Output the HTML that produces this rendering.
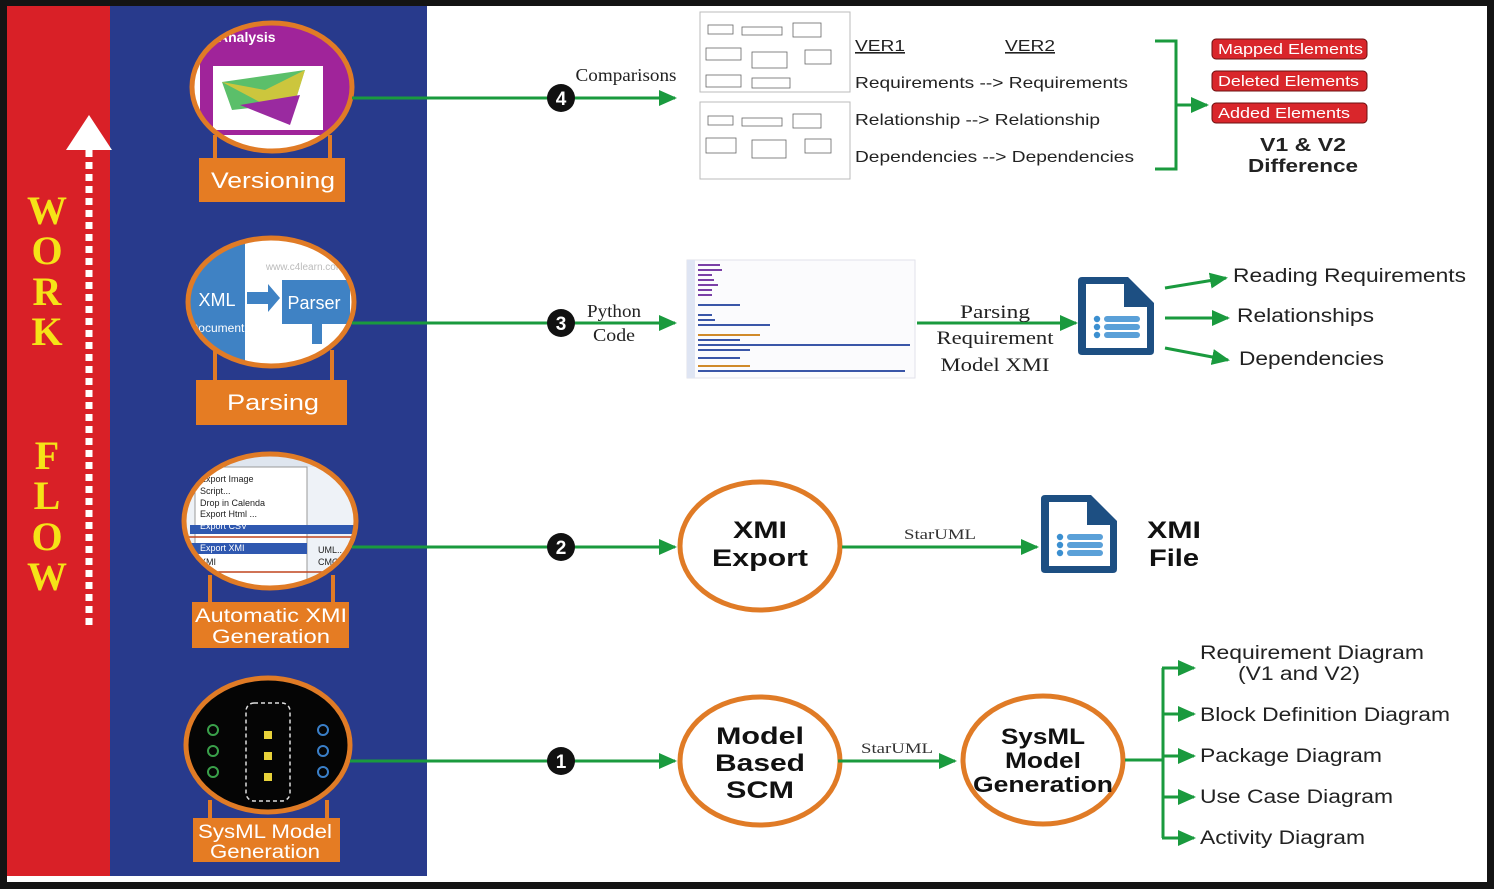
<!DOCTYPE html>
<html><head><meta charset="utf-8">
<style>
html,body{margin:0;padding:0;background:#111;}
svg{display:block;}
.s{font-family:"Liberation Sans",sans-serif;}
.r{font-family:"Liberation Serif",serif;}
</style></head>
<body>
<svg width="1494" height="889" viewBox="0 0 1494 889" xmlns="http://www.w3.org/2000/svg">
<defs>
<marker id="ah2" markerWidth="18" markerHeight="16" refX="16" refY="8" orient="auto" markerUnits="userSpaceOnUse">
<path d="M0,0 L18,8 L0,16 z" fill="#1a9a3e"/></marker>
<g id="doc">
<path d="M4,0 H50 L76,26 V74 Q76,78 72,78 H4 Q0,78 0,74 V4 Q0,0 4,0 z" fill="#1d4f82"/>
<path d="M8,7 H46 V30 H69 V71 H8 z" fill="#fff"/>
<circle cx="19" cy="42" r="3.2" fill="#3b8fd0"/><circle cx="19" cy="50" r="3.2" fill="#3b8fd0"/><circle cx="19" cy="58" r="3.2" fill="#3b8fd0"/>
<rect x="26" y="39" width="36" height="6" rx="3" fill="#5aa0d8"/><rect x="26" y="47" width="36" height="6" rx="3" fill="#5aa0d8"/><rect x="26" y="55" width="36" height="6" rx="3" fill="#5aa0d8"/>
</g>
</defs>
<rect x="0" y="0" width="1494" height="889" fill="#141414"/>
<rect x="7" y="6" width="1480" height="876" fill="#fff"/>
<rect x="7" y="6" width="103" height="870" fill="#d92027"/>
<rect x="110" y="6" width="317" height="870" fill="#283a8c"/>

<line x1="89" y1="150" x2="89" y2="628" stroke="#fff" stroke-width="7" stroke-dasharray="7,5"/>
<path d="M66,150 L89,115 L112,150 z" fill="#fff"/>
<g font-family="Liberation Serif,serif" font-weight="bold" font-size="40" fill="#f5e317" text-anchor="middle">
<text x="47" y="224">W</text><text x="47" y="264">O</text><text x="47" y="305">R</text><text x="47" y="345">K</text>
<text x="47" y="469">F</text><text x="47" y="509">L</text><text x="47" y="550">O</text><text x="47" y="590">W</text>
</g>

<!-- Versioning -->
<line x1="215" y1="135" x2="215" y2="160" stroke="#e07b26" stroke-width="4"/>
<line x1="330" y1="135" x2="330" y2="160" stroke="#e07b26" stroke-width="4"/>
<ellipse cx="272" cy="87" rx="80" ry="64" fill="#fff"/>
<clipPath id="c1"><ellipse cx="272" cy="87" rx="80" ry="64"/></clipPath>
<g clip-path="url(#c1)">
<rect x="200" y="25" width="150" height="110" fill="#a0249a"/>
<rect x="213" y="66" width="110" height="64" fill="#fff"/>
<path d="M222,82 L305,70 L290,118 L250,108 L232,110 z" fill="#5bbf6a"/>
<path d="M222,82 L265,90 L305,70 L290,118 z" fill="#e8c832" opacity="0.8"/>
<path d="M240,105 L300,95 L290,125 z" fill="#9a2aa0"/>
<text x="218" y="42" class="s" font-weight="bold" font-size="14" fill="#fff">Analysis</text>
</g>
<ellipse cx="272" cy="87" rx="80" ry="64" fill="none" stroke="#e07b26" stroke-width="5"/>
<rect x="199" y="158" width="146" height="44" fill="#e57c23"/>
<text x="273" y="188" class="s" font-size="22" fill="#fff" text-anchor="middle" textLength="124" lengthAdjust="spacingAndGlyphs">Versioning</text>

<!-- Parsing -->
<line x1="215" y1="350" x2="215" y2="382" stroke="#e07b26" stroke-width="4"/>
<line x1="332" y1="350" x2="332" y2="382" stroke="#e07b26" stroke-width="4"/>
<ellipse cx="271" cy="302" rx="83" ry="64" fill="#fff"/>
<clipPath id="c2"><ellipse cx="271" cy="302" rx="83" ry="64"/></clipPath>
<g clip-path="url(#c2)">
<rect x="185" y="240" width="60" height="130" fill="#3f82c4"/>
<rect x="282" y="280" width="68" height="44" fill="#3f82c4"/>
<path d="M247,292 H268 V284 L280,298 L268,312 V304 H247 z" fill="#3f82c4"/>
<rect x="312" y="324" width="10" height="20" fill="#3f82c4"/>
<text x="217" y="306" class="s" font-size="18" fill="#fff" text-anchor="middle">XML</text>
<text x="217" y="332" class="s" font-size="12" fill="#fff" text-anchor="middle">Document</text>
<text x="314" y="309" class="s" font-size="18" fill="#fff" text-anchor="middle">Parser</text>
<text x="305" y="270" class="s" font-size="10" fill="#bbb" text-anchor="middle">www.c4learn.com</text>
</g>
<ellipse cx="271" cy="302" rx="83" ry="64" fill="none" stroke="#e07b26" stroke-width="5"/>
<rect x="196" y="380" width="151" height="45" fill="#e57c23"/>
<text x="273" y="410" class="s" font-size="22" fill="#fff" text-anchor="middle" textLength="92" lengthAdjust="spacingAndGlyphs">Parsing</text>

<!-- Auto XMI -->
<line x1="210" y1="575" x2="210" y2="604" stroke="#e07b26" stroke-width="4"/>
<line x1="333" y1="575" x2="333" y2="604" stroke="#e07b26" stroke-width="4"/>
<ellipse cx="270" cy="521" rx="86" ry="67" fill="#eef2f7"/>
<clipPath id="c3"><ellipse cx="270" cy="521" rx="86" ry="67"/></clipPath>
<g clip-path="url(#c3)" class="s" font-size="9" fill="#222">
<rect x="180" y="455" width="180" height="12" fill="#dfe6ef"/>
<rect x="195" y="467" width="112" height="120" fill="#fff" stroke="#999"/>
<rect x="190" y="525" width="170" height="9" fill="#2f58b0"/>
<rect x="190" y="543" width="117" height="11" fill="#2f58b0"/>
<line x1="180" y1="537" x2="360" y2="537" stroke="#c0451f" stroke-width="1.5"/>
<line x1="180" y1="572" x2="360" y2="572" stroke="#c0451f" stroke-width="1.5"/>
<text x="200" y="482">Export Image</text><text x="200" y="494">Script...</text><text x="200" y="506">Drop in Calenda</text>
<text x="200" y="517">Export Html ...</text><text x="200" y="529" fill="#fff">Export CSV</text>
<text x="200" y="551" fill="#fff">Export XMI</text><text x="200" y="565">XMI</text>
<text x="318" y="553">UML..</text><text x="318" y="565">CMOF</text>
</g>
<ellipse cx="270" cy="521" rx="86" ry="67" fill="none" stroke="#e07b26" stroke-width="5"/>
<rect x="192" y="602" width="157" height="46" fill="#e57c23"/>
<text x="271" y="622" class="s" font-size="19" fill="#fff" text-anchor="middle" textLength="152" lengthAdjust="spacingAndGlyphs">Automatic XMI</text>
<text x="271" y="643" class="s" font-size="19" fill="#fff" text-anchor="middle" textLength="118" lengthAdjust="spacingAndGlyphs">Generation</text>

<!-- SysML -->
<line x1="210" y1="800" x2="210" y2="820" stroke="#e07b26" stroke-width="4"/>
<line x1="327" y1="800" x2="327" y2="820" stroke="#e07b26" stroke-width="4"/>
<ellipse cx="268" cy="745" rx="82" ry="67" fill="#050505" stroke="#e07b26" stroke-width="5"/>
<rect x="246" y="703" width="44" height="98" rx="8" fill="none" stroke="#ddd" stroke-width="1.5" stroke-dasharray="4,3"/>
<rect x="264" y="731" width="8" height="8" fill="#e8d23a"/><rect x="264" y="752" width="8" height="8" fill="#e8d23a"/><rect x="264" y="773" width="8" height="8" fill="#e8d23a"/>
<g fill="none" stroke="#3aa04a" stroke-width="2"><circle cx="213" cy="730" r="5"/><circle cx="213" cy="751" r="5"/><circle cx="213" cy="772" r="5"/></g>
<g fill="none" stroke="#3a7fc8" stroke-width="2"><circle cx="323" cy="730" r="5"/><circle cx="323" cy="751" r="5"/><circle cx="323" cy="772" r="5"/></g>
<rect x="193" y="818" width="147" height="44" fill="#e57c23"/>
<text x="265" y="838" class="s" font-size="19" fill="#fff" text-anchor="middle" textLength="134" lengthAdjust="spacingAndGlyphs">SysML Model</text>
<text x="265" y="858" class="s" font-size="19" fill="#fff" text-anchor="middle" textLength="110" lengthAdjust="spacingAndGlyphs">Generation</text>

<g stroke="#1a9a3e" stroke-width="3" fill="none">
<line x1="352" y1="98" x2="675" y2="98" marker-end="url(#ah2)"/>
<line x1="352" y1="323" x2="675" y2="323" marker-end="url(#ah2)"/>
<line x1="352" y1="547" x2="675" y2="547" marker-end="url(#ah2)"/>
<line x1="350" y1="761" x2="675" y2="761" marker-end="url(#ah2)"/>
</g>
<g class="s" font-weight="bold" font-size="19" fill="#fff" text-anchor="middle">
<circle cx="561" cy="98" r="14" fill="#111"/><text x="561" y="105">4</text>
<circle cx="561" cy="323" r="14" fill="#111"/><text x="561" y="330">3</text>
<circle cx="561" cy="547" r="14" fill="#111"/><text x="561" y="554">2</text>
<circle cx="561" cy="761" r="14" fill="#111"/><text x="561" y="768">1</text>
</g>

<!-- Step 4 -->
<text x="626" y="81" class="r" font-size="18" fill="#222" text-anchor="middle" textLength="101" lengthAdjust="spacingAndGlyphs">Comparisons</text>
<g stroke="#bbb" fill="#fff" stroke-width="1">
<rect x="700" y="12" width="150" height="80"/><rect x="700" y="102" width="150" height="77"/>
</g>
<g stroke="#666" fill="none" stroke-width="0.8">
<rect x="708" y="25" width="25" height="9"/><rect x="742" y="27" width="40" height="8"/><rect x="793" y="23" width="28" height="14"/>
<rect x="706" y="48" width="35" height="12"/><rect x="752" y="52" width="35" height="16"/><rect x="805" y="50" width="26" height="14"/>
<rect x="706" y="75" width="35" height="12"/><rect x="752" y="78" width="38" height="10"/>
<rect x="708" y="116" width="25" height="9"/><rect x="742" y="118" width="40" height="8"/><rect x="793" y="114" width="28" height="14"/>
<rect x="706" y="138" width="30" height="15"/><rect x="752" y="140" width="34" height="18"/><rect x="805" y="139" width="26" height="14"/>
</g>
<g class="s" font-size="16" fill="#222" lengthAdjust="spacingAndGlyphs">
<text x="855" y="51" text-decoration="underline" textLength="50" lengthAdjust="spacingAndGlyphs">VER1</text>
<text x="1005" y="51" text-decoration="underline" textLength="50" lengthAdjust="spacingAndGlyphs">VER2</text>
<text x="855" y="88" textLength="273" lengthAdjust="spacingAndGlyphs">Requirements --&gt; Requirements</text>
<text x="855" y="125" textLength="245" lengthAdjust="spacingAndGlyphs">Relationship --&gt; Relationship</text>
<text x="855" y="162" textLength="279" lengthAdjust="spacingAndGlyphs">Dependencies --&gt; Dependencies</text>
</g>
<path d="M1155,41 H1176 V169 H1155" fill="none" stroke="#1a9a3e" stroke-width="3"/>
<line x1="1176" y1="105" x2="1207" y2="105" stroke="#1a9a3e" stroke-width="3" marker-end="url(#ah2)"/>
<g class="s" font-size="15" fill="#fff">
<rect x="1212" y="39" width="155" height="20" rx="4" fill="#d9262b" stroke="#6b1010"/><text x="1218" y="54" textLength="145" lengthAdjust="spacingAndGlyphs">Mapped Elements</text>
<rect x="1212" y="71" width="155" height="20" rx="4" fill="#d9262b" stroke="#6b1010"/><text x="1218" y="86" textLength="141" lengthAdjust="spacingAndGlyphs">Deleted Elements</text>
<rect x="1212" y="103" width="155" height="20" rx="4" fill="#d9262b" stroke="#6b1010"/><text x="1218" y="118" textLength="132" lengthAdjust="spacingAndGlyphs">Added Elements</text>
</g>
<text x="1303" y="151" class="s" font-weight="bold" font-size="18" fill="#222" text-anchor="middle" textLength="86" lengthAdjust="spacingAndGlyphs">V1 &amp; V2</text>
<text x="1303" y="172" class="s" font-weight="bold" font-size="18" fill="#222" text-anchor="middle" textLength="110" lengthAdjust="spacingAndGlyphs">Difference</text>

<!-- Step 3 -->
<text x="614" y="317" class="r" font-size="18" fill="#222" text-anchor="middle" textLength="54" lengthAdjust="spacingAndGlyphs">Python</text>
<text x="614" y="341" class="r" font-size="18" fill="#222" text-anchor="middle" textLength="42" lengthAdjust="spacingAndGlyphs">Code</text>
<rect x="687" y="260" width="228" height="118" fill="#fbfbfd" stroke="#e2e2ea"/>
<rect x="687" y="260" width="8" height="118" fill="#dfe5f3"/>
<g stroke-width="2">
<line x1="698" y1="265" x2="720" y2="265" stroke="#7a3fa6"/><line x1="698" y1="270" x2="722" y2="270" stroke="#7a3fa6"/>
<line x1="698" y1="275" x2="712" y2="275" stroke="#7a3fa6"/><line x1="698" y1="280" x2="714" y2="280" stroke="#7a3fa6"/>
<line x1="698" y1="285" x2="718" y2="285" stroke="#7a3fa6"/><line x1="698" y1="290" x2="712" y2="290" stroke="#7a3fa6"/>
<line x1="698" y1="295" x2="712" y2="295" stroke="#7a3fa6"/><line x1="698" y1="305" x2="740" y2="305" stroke="#3a56a8"/>
<line x1="698" y1="315" x2="712" y2="315" stroke="#3a56a8"/><line x1="698" y1="320" x2="715" y2="320" stroke="#3a56a8"/>
<line x1="698" y1="325" x2="770" y2="325" stroke="#3a56a8"/><line x1="698" y1="335" x2="760" y2="335" stroke="#d08a2a"/>
<line x1="698" y1="340" x2="740" y2="340" stroke="#3a56a8"/><line x1="698" y1="345" x2="910" y2="345" stroke="#3a56a8"/>
<line x1="698" y1="350" x2="750" y2="350" stroke="#3a56a8"/><line x1="698" y1="358" x2="740" y2="358" stroke="#3a56a8"/>
<line x1="698" y1="366" x2="750" y2="366" stroke="#d08a2a"/><line x1="698" y1="371" x2="905" y2="371" stroke="#3a56a8"/>
</g>
<line x1="917" y1="323" x2="1076" y2="323" stroke="#1a9a3e" stroke-width="3" marker-end="url(#ah2)"/>
<g class="r" font-size="19" fill="#222" text-anchor="middle">
<text x="995" y="318" textLength="70" lengthAdjust="spacingAndGlyphs">Parsing</text>
<text x="995" y="344" textLength="117" lengthAdjust="spacingAndGlyphs">Requirement</text>
<text x="995" y="371" textLength="109" lengthAdjust="spacingAndGlyphs">Model XMI</text>
</g>
<use href="#doc" x="1078" y="277"/>
<g stroke="#1a9a3e" stroke-width="3">
<line x1="1165" y1="288" x2="1226" y2="278" marker-end="url(#ah2)"/>
<line x1="1165" y1="318" x2="1228" y2="318" marker-end="url(#ah2)"/>
<line x1="1165" y1="348" x2="1228" y2="360" marker-end="url(#ah2)"/>
</g>
<g class="s" font-size="19" fill="#222">
<text x="1233" y="282" textLength="233" lengthAdjust="spacingAndGlyphs">Reading Requirements</text>
<text x="1237" y="322" textLength="137" lengthAdjust="spacingAndGlyphs">Relationships</text>
<text x="1239" y="365" textLength="145" lengthAdjust="spacingAndGlyphs">Dependencies</text>
</g>

<!-- Step 2 -->
<ellipse cx="760" cy="546" rx="80" ry="64" fill="#fff" stroke="#e07b26" stroke-width="5"/>
<text x="760" y="538" class="s" font-weight="bold" font-size="24" fill="#111" text-anchor="middle" textLength="54" lengthAdjust="spacingAndGlyphs">XMI</text>
<text x="760" y="566" class="s" font-weight="bold" font-size="24" fill="#111" text-anchor="middle" textLength="96" lengthAdjust="spacingAndGlyphs">Export</text>
<line x1="842" y1="547" x2="1037" y2="547" stroke="#1a9a3e" stroke-width="3" marker-end="url(#ah2)"/>
<text x="940" y="539" class="r" font-size="15" fill="#333" text-anchor="middle" textLength="72" lengthAdjust="spacingAndGlyphs">StarUML</text>
<use href="#doc" x="1041" y="495"/>
<text x="1174" y="538" class="s" font-weight="bold" font-size="24" fill="#111" text-anchor="middle" textLength="54" lengthAdjust="spacingAndGlyphs">XMI</text>
<text x="1174" y="566" class="s" font-weight="bold" font-size="24" fill="#111" text-anchor="middle" textLength="50" lengthAdjust="spacingAndGlyphs">File</text>

<!-- Step 1 -->
<ellipse cx="760" cy="761" rx="80" ry="64" fill="#fff" stroke="#e07b26" stroke-width="5"/>
<g class="s" font-weight="bold" font-size="24" fill="#111" text-anchor="middle">
<text x="760" y="744" textLength="88" lengthAdjust="spacingAndGlyphs">Model</text>
<text x="760" y="771" textLength="90" lengthAdjust="spacingAndGlyphs">Based</text>
<text x="760" y="798" textLength="68" lengthAdjust="spacingAndGlyphs">SCM</text>
</g>
<line x1="838" y1="761" x2="955" y2="761" stroke="#1a9a3e" stroke-width="3" marker-end="url(#ah2)"/>
<text x="897" y="753" class="r" font-size="15" fill="#333" text-anchor="middle" textLength="72" lengthAdjust="spacingAndGlyphs">StarUML</text>
<ellipse cx="1043" cy="760" rx="80" ry="64" fill="#fff" stroke="#e07b26" stroke-width="5"/>
<g class="s" font-weight="bold" font-size="22" fill="#111" text-anchor="middle">
<text x="1043" y="744" textLength="84" lengthAdjust="spacingAndGlyphs">SysML</text>
<text x="1043" y="768" textLength="76" lengthAdjust="spacingAndGlyphs">Model</text>
<text x="1043" y="792" textLength="140" lengthAdjust="spacingAndGlyphs">Generation</text>
</g>
<g stroke="#1a9a3e" stroke-width="3" fill="none">
<line x1="1125" y1="760" x2="1163" y2="760"/>
<line x1="1163" y1="668" x2="1163" y2="838"/>
<line x1="1162" y1="668" x2="1194" y2="668" marker-end="url(#ah2)"/>
<line x1="1162" y1="714" x2="1194" y2="714" marker-end="url(#ah2)"/>
<line x1="1162" y1="756" x2="1194" y2="756" marker-end="url(#ah2)"/>
<line x1="1162" y1="797" x2="1194" y2="797" marker-end="url(#ah2)"/>
<line x1="1162" y1="838" x2="1194" y2="838" marker-end="url(#ah2)"/>
</g>
<g class="s" font-size="19" fill="#222">
<text x="1200" y="659" textLength="224" lengthAdjust="spacingAndGlyphs">Requirement Diagram</text>
<text x="1238" y="680" textLength="122" lengthAdjust="spacingAndGlyphs">(V1 and V2)</text>
<text x="1200" y="721" textLength="250" lengthAdjust="spacingAndGlyphs">Block Definition Diagram</text>
<text x="1200" y="762" textLength="182" lengthAdjust="spacingAndGlyphs">Package Diagram</text>
<text x="1200" y="803" textLength="193" lengthAdjust="spacingAndGlyphs">Use Case Diagram</text>
<text x="1200" y="844" textLength="165" lengthAdjust="spacingAndGlyphs">Activity Diagram</text>
</g>
</svg>
</body></html>
